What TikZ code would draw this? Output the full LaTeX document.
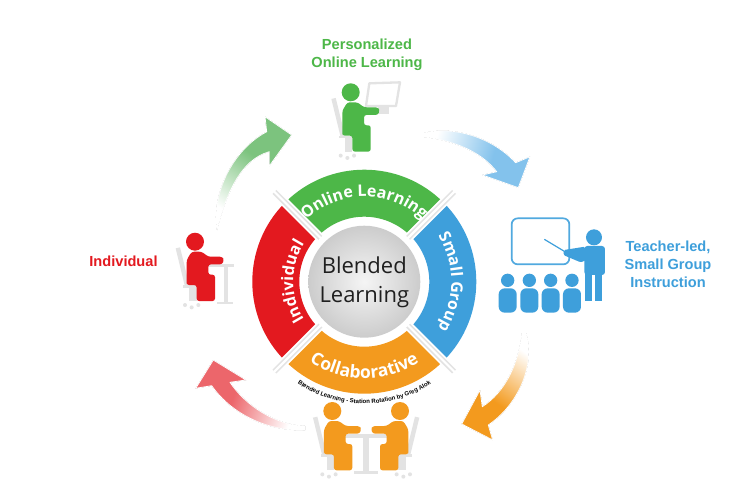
\documentclass[tikz,border=0pt]{standalone}
\usepackage{fontspec}
\setmainfont{Liberation Sans}
\newfontfamily\ringfont{Open Sans}
\usetikzlibrary{decorations.text,calc}
\definecolor{cgreen}{HTML}{4DB748}
\definecolor{cblue}{HTML}{3E9FDB}
\definecolor{corange}{HTML}{F39A1E}
\definecolor{cred}{HTML}{E3191F}
\definecolor{furn}{HTML}{E3E3E3}
\definecolor{agreen}{HTML}{7CC37E}
\definecolor{ablue}{HTML}{83C2EC}
\definecolor{aorange}{HTML}{F39A1E}
\definecolor{ared}{HTML}{EC666B}
\pgfdeclareverticalshading{fadegreen}{100bp}{color(0bp)=(white); color(27bp)=(white); color(58bp)=(agreen); color(100bp)=(agreen)}
\pgfdeclareverticalshading{fadeblue}{100bp}{color(0bp)=(white); color(27bp)=(white); color(58bp)=(ablue); color(100bp)=(ablue)}
\pgfdeclareverticalshading{fadeorange}{100bp}{color(0bp)=(white); color(27bp)=(white); color(58bp)=(aorange); color(100bp)=(aorange)}
\pgfdeclareverticalshading{fadered}{100bp}{color(0bp)=(white); color(27bp)=(white); color(58bp)=(ared); color(100bp)=(ared)}
\newcommand{\ringtype}{\ringfont\bfseries\fontsize{16}{18}\selectfont}
\newcommand{\collabtype}{\ringfont\bfseries\fontsize{17.5}{18}\selectfont}
\newcommand{\smalltype}{\bfseries\fontsize{6}{7}\selectfont}
\newcommand{\greenarrow}{(217,230) .. controls (211,195) and (232,150) .. (266.7,131.7) -- (265,116.7) -- (291.7,135) -- (269.3,166) -- (269.3,151.7) .. controls (240,160) and (226,195) .. (217,230) -- cycle}
\newcommand{\bluearrow}{(424,133) .. controls (450,126) and (490,135) .. (515.7,162.7) -- (530,156.7) -- (518.3,187.7) -- (482.3,175) -- (496.7,171.7) .. controls (480,150) and (450,140) .. (424,137) -- cycle}
\newcommand{\orangearrow}{(526,333) .. controls (536,365) and (518,405) .. (488.3,425) -- (492.7,440) -- (461.7,424) -- (480,390) -- (482.3,406.7) .. controls (505,392) and (518,365) .. (522,333) -- cycle}
\newcommand{\redarrow}{(305,430) .. controls (270,432) and (232,415) .. (211.7,385.7) -- (195.7,388.3) -- (213.3,360) -- (246,380) -- (230,382.3) .. controls (245,405) and (275,425) .. (305,426) -- cycle}
\newcommand{\seatedfigure}[4]{%
  \begin{scope}[shift={(#1,#2)},xscale=#3*0.3333,yscale=0.3333]
    \fill[furn] (-58,20) -- (-45,17) -- (-17,130) -- (-30,135) -- cycle;
    \fill[furn] (-35,130) rectangle (30,138);
    \fill[furn] (-17,138) rectangle (5,178);
    \foreach \wx/\wy in {-30/190,-10/197,10/190} \fill[furn] (\wx,\wy) circle[radius=6];
    \fill[#4] (0,0) circle[radius=27];
    \fill[#4,rounded corners=2.5pt] (-25,120) -- (-25,55) -- (-10,30) -- (20,30) -- (40,45) -- (82,45) -- (87,55) -- (82,68) -- (40,68) -- (40,99) -- (60,99) -- (60,178) -- (5,178) -- (5,130) -- (-25,130) -- cycle;
  \end{scope}}
\begin{document}
\begin{tikzpicture}[x=1pt,y=-1pt,
  sidelabel/.style={font=\bfseries\fontsize{14.6}{18}\selectfont,align=center,inner sep=0pt},
  softedge/.style={draw=white,line width=0.8pt,line join=round}]
\useasboundingbox[fill=white] (0,0) rectangle (755,498);
\coordinate (c) at (364.3,281.7);
% curved arrows
\fill[shading=fadegreen,shading angle=-35] \greenarrow;
\draw[softedge] \greenarrow;
\fill[shading=fadeblue,shading angle=-105] \bluearrow;
\draw[softedge] \bluearrow;
\fill[shading=fadeorange,shading angle=145] \orangearrow;
\draw[softedge] \orangearrow;
\fill[shading=fadered,shading angle=70] \redarrow;
\draw[softedge] \redarrow;
% ring sectors
\foreach \sa/\col in {-135/cgreen,-45/cblue,45/corange,135/cred}{
  \pgfmathsetmacro{\se}{\sa+90}
  \fill[\col] ($(c)+(\sa:112)$) arc[start angle=\sa,end angle=\se,radius=112] -- ($(c)+(\se:65)$) arc[start angle=\se,end angle=\sa,radius=65] -- cycle;
}
% cross lines
\foreach \ang in {45,135,225,315}{
  \draw[white,line width=9pt] ($(c)+(\ang:57)$) -- ($(c)+(\ang:113)$);
  \draw[furn,line width=5.5pt] ($(c)+(\ang:57)$) -- ($(c)+(\ang:127)$);
  \draw[white,line width=2.2pt] ($(c)+(\ang:57)$) -- ($(c)+(\ang:128)$);
}
% centre
\fill[white] (c) circle[radius=62];
\shade[inner color=white!96!black,outer color=white!80!black] (c) circle[radius=56];
\node[font=\ringfont\fontsize{22}{29}\selectfont,align=center,text=black!88,inner sep=0pt] (centre) at (364.3,282) {Blended\\Learning};
% ring text
\path[decorate,decoration={text along path,text align=center,text color=white,text={|\ringtype|Online Learning}}] ($(c)+(-150:85)$) arc[start angle=-150,end angle=-30,radius=85];
\path[decorate,decoration={text along path,text align=center,text color=white,text={|\ringtype|Small Group}}] ($(c)+(-60:87)$) arc[start angle=-60,end angle=60,radius=87];
\path[decorate,decoration={text along path,text align=center,text color=white,text={|\collabtype|Collaborative}}] ($(c)+(150:97)$) arc[start angle=150,end angle=30,radius=97];
\path[decorate,decoration={text along path,text align=center,text color=white,text={|\ringtype|Individual}}] ($(c)+(120:71)$) arc[start angle=120,end angle=240,radius=71];
\path[decorate,decoration={text along path,text align=center,text color=black,text={|\smalltype|Blended Learning  - Station Rotation by Greg Alok}}] ($(c)+(160:122)$) arc[start angle=160,end angle=20,radius=122];
% side labels
\node[sidelabel,text=cgreen] (lgreen) at (367,55) {Personalized\\Online Learning};
\node[sidelabel,text=cred] (lred) at (123.5,261) {Individual};
\node[sidelabel,text=cblue] (lblue) at (668,264) {Teacher-led,\\Small Group\\Instruction};
% green figure furniture
\begin{scope}[shift={(290,20)},scale=0.3333]
  \draw[furn,line width=2.3pt,line join=round] (238,190) -- (330,187) -- (318,258) -- (228,258) -- cycle;
  \fill[furn] (265,262) rectangle (298,281);
\end{scope}
\seatedfigure{350.7}{92.3}{1}{cgreen}
% red figure desk
\begin{scope}[shift={(80,220)},scale=0.3333]
  \fill[furn] (385,133) rectangle (462,142);
  \fill[furn] (432,142) rectangle (445,245);
  \fill[furn] (410,245) rectangle (460,253);
\end{scope}
\seatedfigure{195}{241.7}{1}{cred}
% orange figures table
\begin{scope}[shift={(280,370)},scale=0.3333]
  \fill[furn] (190,192) rectangle (327,205);
  \fill[furn] (250,205) rectangle (268,303);
  \fill[furn] (222,303) rectangle (295,312);
\end{scope}
\seatedfigure{332.3}{411}{1}{corange}
\seatedfigure{400}{411}{-1}{corange}
% teacher and group
\begin{scope}[shift={(490,200)},scale=0.3333]
  \draw[cblue!90!white,line width=1.7pt,rounded corners=6pt] (65,55) rectangle (238,193);
  \draw[cblue,line width=1.2pt] (163,118) -- (228,157);
  \fill[cblue] (312,112) circle[radius=24];
  \fill[cblue,rounded corners=3pt] (283,138) rectangle (345,225);
  \fill[cblue,rounded corners=1.5pt] (285,140) -- (222,150) -- (220,165) -- (272,187) -- (290,180) -- cycle;
  \fill[cblue] (285,215) rectangle (307,302);
  \fill[cblue] (315,215) rectangle (337,302);
  \foreach \sx in {53,118,182,246}{
    \fill[cblue] (\sx,241) circle[radius=20];
    \fill[cblue,rounded corners=6pt] (\sx-27,265) rectangle (\sx+27,338);
  }
\end{scope}
\end{tikzpicture}
\end{document}
